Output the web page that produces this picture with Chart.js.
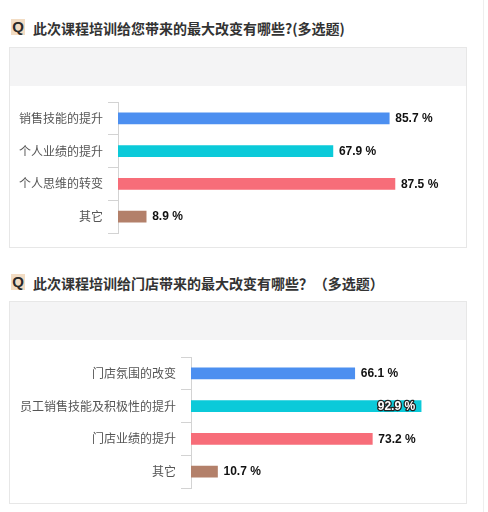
<!DOCTYPE html>
<html>
<head>
<meta charset="utf-8">
<script src="https://cdn.jsdelivr.net/npm/chart.js@4.4.1/dist/chart.umd.min.js"></script>
<style>
  html, body { margin:0; padding:0; background:#fff; }
  body { width:488px; height:512px; position:relative; overflow:hidden; font-family:"Noto Sans CJK SC", sans-serif; }
  .qbox { position:absolute; left:11px; width:14px; height:16px; background:#f2dcc3; color:#2a2a2a;
          font:bold 15px/16px "Liberation Sans", Arial, sans-serif; text-align:center; }
  .title { position:absolute; left:33px; font-size:14px; line-height:20px; font-weight:bold; color:#333; white-space:nowrap; }
  .panel { position:absolute; left:9px; width:458px; border:1px solid #e7e7e7; box-sizing:border-box; background:#fff; }
  .head { position:absolute; left:0; top:0; right:0; height:38px; background:#f4f4f5; }
  canvas { position:absolute; left:10px; }
  .edgeline { position:absolute; left:483px; top:0; width:1px; height:512px; background:#eeeeee; }
</style>
</head>
<body>
<div class="qbox" style="top:19px;">Q</div>
<div class="title" style="top:18px;">此次课程培训给您带来的最大改变有哪些?(多选题)</div>
<div class="panel" style="top:47px;height:201px;"><div class="head"></div></div>
<canvas id="c1" width="456" height="160" style="top:87px;width:456px;height:160px;"></canvas>

<div class="qbox" style="top:274px;">Q</div>
<div class="title" style="top:273px;">此次课程培训给门店带来的最大改变有哪些？&#8202;（多选题）</div>
<div class="panel" style="top:301px;height:203px;"><div class="head"></div></div>
<canvas id="c2" width="456" height="160" style="top:341px;width:456px;height:160px;"></canvas>

<div class="edgeline"></div>

<script>
const categories1 = ['销售技能的提升', '个人业绩的提升', '个人思维的转变', '其它'];
const values1 = [85.7, 67.9, 87.5, 8.9];
const categories2 = ['门店氛围的改变', '员工销售技能及积极性的提升', '门店业绩的提升', '其它'];
const values2 = [66.1, 92.9, 73.2, 10.7];
const barColors = ['#4c8ff0', '#0bcad9', '#f76d79', '#b3806a'];

const valueLabels = {
  id: 'valueLabels',
  afterDatasetsDraw(chart) {
    const ctx = chart.ctx;
    const meta = chart.getDatasetMeta(0);
    const data = chart.data.datasets[0].data;
    ctx.save();
    ctx.font = 'bold 12px "Liberation Sans", Arial, sans-serif';
    ctx.textBaseline = 'middle';
    meta.data.forEach((bar, i) => {
      const txt = data[i].toFixed(1) + ' %';
      const w = ctx.measureText(txt).width;
      if (bar.x + 6 + w > chart.chartArea.right + 20) {
        ctx.textAlign = 'right';
        ctx.lineJoin = 'round';
        ctx.lineWidth = 2.5;
        ctx.strokeStyle = '#222';
        ctx.strokeText(txt, bar.x - 6, bar.y + 0.5);
        ctx.fillStyle = '#fff';
        ctx.fillText(txt, bar.x - 6, bar.y + 0.5);
      } else {
        ctx.textAlign = 'left';
        ctx.fillStyle = '#111';
        ctx.fillText(txt, bar.x + 6, bar.y + 0.5);
      }
    });
    ctx.restore();
  }
};

function makeChart(id, labels, values, axisWidth, pad) {
  return new Chart(document.getElementById(id), {
    type: 'bar',
    data: {
      labels: labels,
      datasets: [{
        data: values,
        backgroundColor: barColors,
        borderWidth: 0,
        barThickness: 11
      }]
    },
    options: {
      indexAxis: 'y',
      responsive: false,
      animation: false,
      layout: { padding: pad },
      plugins: { legend: { display: false }, tooltip: { enabled: false } },
      scales: {
        x: { display: false, min: 0, max: 100 },
        y: {
          grid: { offset: true, drawOnChartArea: false, drawTicks: true, tickLength: 10, color: '#d3d3d3' },
          border: { color: '#d3d3d3' },
          ticks: { padding: 5, color: '#555', font: { size: 12, family: '"Noto Sans CJK SC", sans-serif' } },
          afterFit(scale) { scale.width = axisWidth; }
        }
      }
    },
    plugins: [valueLabels]
  });
}

makeChart('c1', categories1, values1, 108, { left: 0, right: 31.5, top: 15, bottom: 14 });
makeChart('c2', categories2, values2, 181, { left: 0, right: 27.3, top: 16, bottom: 13 });
</script>
</body>
</html>
